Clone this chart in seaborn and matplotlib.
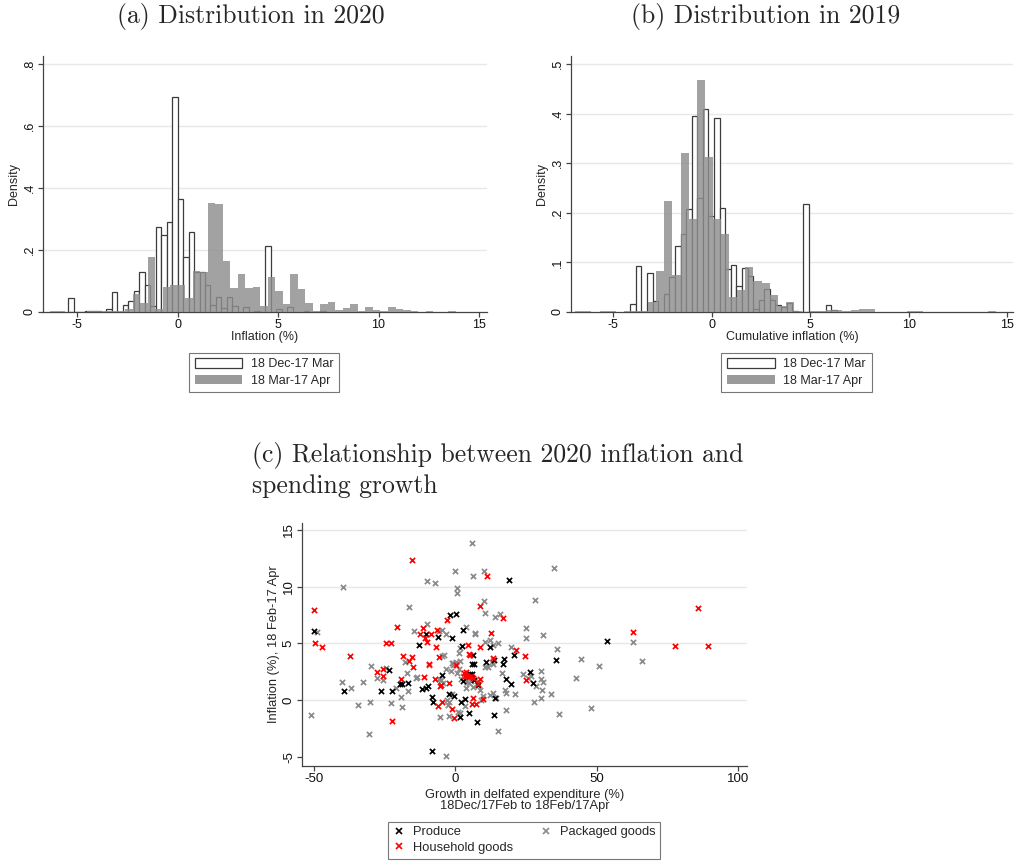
import numpy as np
import pandas as pd
import matplotlib
matplotlib.use("Agg")
import matplotlib.pyplot as plt
from matplotlib.patches import Patch
from matplotlib.lines import Line2D
import seaborn as sns

# ---------------- data: panel (a) distribution in 2020 ----------------
a_dec_bin_width = 0.2727
a_dec_bin_origin = 0.0
a_dec_first_bin = -20
a_dec_density = [0.046, 0, 0, 0.002, 0.002, 0.002, 0, 0.010, 0.064, 0,
                 0.022, 0.034, 0.067, 0.129, 0.087, 0.018, 0.273, 0.250, 0.290, 0.694,
                 0.366, 0.176, 0.259, 0.130, 0.130, 0.088, 0.022, 0.049, 0.012, 0.049,
                 0.018, 0, 0.017, 0, 0.003, 0, 0.214, 0, 0.011, 0,
                 0.016, 0, 0, 0.004, 0, 0, 0.004]
a_mar_bin_width = 0.374
a_mar_bin_origin = 0.0
a_mar_first_bin = -17
a_mar_density = [0.003, 0.003, 0, 0, 0.001, 0.002, 0.002, 0.002, 0.003, 0.003,
                 0.010, 0.057, 0.030, 0.179, 0.010, 0.080, 0.087, 0.087, 0.045, 0.133,
                 0.128, 0.353, 0.350, 0.166, 0.079, 0.123, 0.077, 0.081, 0.019, 0.112,
                 0.069, 0.025, 0.124, 0.073, 0.030, 0.003, 0.027, 0.033, 0.008, 0.012,
                 0.026, 0.003, 0.017, 0.008, 0.002, 0.017, 0.011, 0.005, 0.003, 0.001,
                 0.003, 0, 0, 0.004]

# ---------------- data: panel (b) distribution in 2019 ----------------
b_dec_bin_width = 0.2834
b_dec_bin_origin = 0.118
b_dec_first_bin = -15
b_dec_density = [0.017, 0.092, 0, 0.078, 0.023, 0, 0.036, 0.070, 0.134, 0.157,
                 0.208, 0.395, 0.230, 0.410, 0.193, 0.390, 0.209, 0.087, 0.094, 0.053,
                 0.088, 0.072, 0.006, 0.024, 0.046, 0.025, 0.015, 0.010, 0.019, 0.003,
                 0, 0.218, 0, 0, 0, 0.014, 0.004]
b_mar_bin_width = 0.411
b_mar_bin_origin = -2.403
b_mar_first_bin = -11
b_mar_density = [0.002, 0.002, 0, 0.002, 0.002, 0, 0.003, 0.003, 0.003, 0.020,
                 0.083, 0.223, 0.075, 0.320, 0.187, 0.468, 0.313, 0.187, 0.157, 0.031,
                 0.044, 0.090, 0.063, 0.058, 0.035, 0.012, 0.020, 0.003, 0, 0.001,
                 0.002, 0.004, 0.005, 0.002, 0.004, 0.006, 0.007, 0, 0, 0,
                 0, 0.002, 0.002, 0, 0, 0, 0, 0, 0, 0,
                 0, 0.002]

hist_x_ticks = [-5, 0, 5, 10, 15]
hist_x_tick_labels = ["-5", "0", "5", "10", "15"]
a_y_ticks = [0, 0.2, 0.4, 0.6, 0.8]
a_y_tick_labels = ["0", ".2", ".4", ".6", ".8"]
b_y_ticks = [0, 0.1, 0.2, 0.3, 0.4, 0.5]
b_y_tick_labels = ["0", ".1", ".2", ".3", ".4", ".5"]
legend_labels = ["18 Dec-17 Mar", "18 Mar-17 Apr"]

# ---------------- data: panel (c) scatter ----------------
produce_growth = [-50.1, -39.4, -26.3, -23.4, -22.3, -19.6, -18.9, -16.6, -12.9, -11.8,
                  -10.5, -10.2, -9.5, -8.2, -7.9, -8.3, -6.0, -4.6, -1.8, -2.3,
                  -1.1, -0.4, 0.3, 1.8, 2.6, 2.3, 2.6, 2.2, 3.6, 4.8,
                  5.1, 5.8, 6.2, 6.0, 6.6, 6.7, 7.7, 8.2, 10.9, 12.3,
                  13.9, 14.0, 13.8, 17.1, 16.9, 17.8, 18.9, 19.7, 20.7, 26.4,
                  27.4, 35.5, 53.6]
produce_infl = [6.06, 0.82, 0.82, 2.62, 0.82, 1.45, 1.38, 1.50, 4.82, 0.98,
                5.82, 1.05, 1.25, 0.30, -0.12, -4.45, 5.60, 2.20, 7.48, 0.58,
                5.48, 0.40, 7.56, -1.45, 6.14, 4.80, 1.70, -0.12, 0.08, -1.12,
                2.30, 2.26, 3.95, 3.20, 3.20, 1.76, -1.95, 1.32, 3.32, 4.70,
                3.50, 0.20, -1.30, 3.66, 3.20, 1.90, 10.55, 1.43, 3.96, 2.48,
                1.55, 3.57, 5.18]

household_growth = [-49.9, -49.5, -47.0, -37.1, -27.8, -25.7, -25.7, -24.5, -22.6, -22.3,
                    -20.7, -19.2, -18.5, -16.4, -15.3, -15.0, -15.3, -12.3, -11.4, -10.7,
                    -10.1, -8.6, -11.1, -9.2, -6.6, -6.7, -5.8, -7.1, -5.5, -5.0,
                    -6.2, -4.7, -2.8, -2.3, -1.2, -0.5, 0.3, 3.0, 3.5, 3.9,
                    4.3, 5.0, 4.4, 4.8, 5.1, 5.5, 6.2, 6.4, 6.1, 7.2,
                    8.0, 8.9, 8.7, 8.9, 9.8, 11.1, 12.6, 13.3, 16.9, 21.5,
                    24.7, 25.1, 62.9, 77.6, 85.9, 89.4]
household_infl = [7.95, 5.02, 4.65, 3.92, 2.47, 2.76, 2.15, 5.04, 5.04, -1.86,
                  6.40, 1.84, 3.90, 3.47, 3.80, 2.94, 12.35, 5.80, 6.38, 5.48,
                  5.15, 5.80, 2.02, 3.20, 6.20, 4.72, 3.78, 1.83, 1.26, 1.30,
                  -0.48, -0.12, 7.07, 1.48, -0.75, -1.57, 3.10, 2.40, 2.10, 2.50,
                  2.15, 2.00, 4.90, 4.10, 3.96, 2.15, 1.94, 0.16, -0.36, -0.38,
                  1.45, 1.85, 4.65, 8.25, 0.08, 10.90, 5.90, 3.72, 7.25, 4.42,
                  3.88, 1.76, 5.97, 4.76, 8.12, 4.76]

packaged_growth = [6.0, -0.1, 6.2, 10.1, -10.1, -7.3, 0.7, 0.5, -39.7, 34.8,
                   28.2, 10.1, 10.5, 14.2, 16.0, -16.3, -9.9, -14.6, 3.7, 6.9,
                   7.1, -5.8, -4.6, -3.4, 24.9, 24.9, 31.0, 36.0, 62.9, 19.9,
                   12.2, 10.5, 13.4, 15.0, 1.4, 1.8, 1.6, -4.6, -3.8, -17.7,
                   -17.1, -16.6, -19.0, -18.9, -22.8, -24.4, -25.5, -27.7, -29.7, -32.5,
                   -34.3, -37.0, -40.0, -30.2, -30.6, -51.1, -48.9, -13.4, -9.4, -21.0,
                   -5.6, -5.0, -4.3, -3.4, -3.0, -2.1, -2.2, -3.1, -5.4, 1.1,
                   1.6, -1.6, -0.7, -1.3, -0.6, 0.4, 1.5, 2.2, 2.8, 4.2,
                   4.9, 5.6, 3.8, 6.3, 8.6, 9.0, 9.9, 3.4, 12.4, 13.3,
                   14.3, 15.1, 17.6, 18.0, 18.0, 21.3, 16.4, 10.6, 11.6, 13.2,
                   13.0, 7.9, 24.0, 25.8, 26.8, 28.5, 30.3, 30.5, 31.1, 30.6,
                   30.3, 27.9, 33.8, 36.8, 42.9, 44.4, 51.0, 48.2, 66.2, -1.3,
                   -2.5, 0.5, 3.5, -13.8]
packaged_infl = [13.83, 11.40, 10.90, 11.37, 10.53, 10.30, 9.90, 9.42, 10.00, 11.65,
                 8.80, 8.74, 7.66, 7.33, 7.57, 8.20, 6.74, 6.13, 6.42, 5.90,
                 5.80, 6.10, 6.17, 5.82, 6.33, 5.48, 5.76, 4.50, 5.12, 4.72,
                 5.30, 5.08, 4.90, 5.02, 4.15, 3.45, 4.55, 3.88, 3.96, 3.38,
                 2.36, 0.80, 0.30, -0.62, -0.25, 2.85, 1.74, 1.92, 2.98, 1.58,
                 -0.45, 1.10, 1.58, -0.20, -2.97, -1.32, 6.04, 2.05, 3.07, 1.03,
                 1.90, 1.75, 1.55, 2.73, 0.00, -0.18, -1.42, -4.93, -1.45, -1.00,
                 -1.12, 2.58, 3.08, 3.25, 3.30, 3.40, 2.70, 1.85, 2.10, 1.60,
                 1.50, 1.70, 1.05, 1.20, 0.90, -0.03, 0.35, -0.50, 0.45, 0.60,
                 0.20, -2.70, 0.90, 0.60, -0.88, 0.53, 2.40, 2.90, 2.95, 3.17,
                 3.35, 1.67, 2.30, 1.94, 2.10, 1.28, 2.60, 1.82, 1.58, 0.90,
                 0.22, -0.15, 0.57, -1.18, 1.97, 3.60, 2.97, -0.65, 3.41, 0.53,
                 -0.44, 2.40, 1.90, 1.95]

group_names = ["Produce", "Household goods", "Packaged goods"]
c_x_ticks = [-50, 0, 50, 100]
c_x_tick_labels = ["-50", "0", "50", "100"]
c_y_ticks = [-5, 0, 5, 10, 15]
c_y_tick_labels = ["-5", "0", "5", "10", "15"]

# ---------------- style ----------------
sns.set_theme(style="white")
plt.rcParams["font.family"] = ["Liberation Sans", "DejaVu Sans"]
TITLE_FONT = ["cmr10", "DejaVu Serif"]
GRID = "#ebe7e7"
AX = "#444444"
TICK_FS = 9
LAB_FS = 9

fig = plt.figure(figsize=(10.15, 8.64), dpi=100)


def hist_frame(first_bin, origin, width, heights):
    edges = origin + width * np.arange(first_bin, first_bin + len(heights) + 1)
    centers = (edges[:-1] + edges[1:]) / 2
    return pd.DataFrame({"x": centers, "w": heights}), [float(e) for e in edges]


def style_axes(ax, xlim, ylim, xticks, xtl, yticks, ytl, fs):
    ax.set_xlim(*xlim)
    ax.set_ylim(*ylim)
    ax.set_xticks(xticks)
    ax.set_xticklabels(xtl, fontsize=fs)
    ax.set_yticks(yticks)
    ax.set_yticklabels(ytl, fontsize=fs, rotation=90, va="center")
    for s in ["top", "right"]:
        ax.spines[s].set_visible(False)
    for s in ["left", "bottom"]:
        ax.spines[s].set_color(AX)
        ax.spines[s].set_linewidth(0.9)
    ax.tick_params(axis="both", direction="out", length=3.6, width=0.9,
                   color=AX, pad=1.5, bottom=True, left=True, labelcolor="#111111")
    ax.grid(False)
    for yv in yticks[1:]:
        ax.axhline(yv, color=GRID, lw=1.0, zorder=0)
    ax.set_facecolor("white")


def hist_panel(ax, dec, mar, xlim, ylim, yticks, ytl, xlabel):
    (df_d, e_d), (df_m, e_m) = dec, mar
    sns.histplot(data=df_d, x="x", weights="w", bins=e_d, stat="count", ax=ax,
                 color="white", edgecolor="#3c3c3c", linewidth=0.9, alpha=1.0,
                 zorder=2)
    sns.histplot(data=df_m, x="x", weights="w", bins=e_m, stat="count", ax=ax,
                 color="#8e8e8e", edgecolor="none", linewidth=0, alpha=0.82,
                 zorder=3)
    style_axes(ax, xlim, ylim, hist_x_ticks, hist_x_tick_labels, yticks, ytl, TICK_FS)
    ax.set_xlabel(xlabel, fontsize=LAB_FS, labelpad=0)
    ax.set_ylabel("Density", fontsize=LAB_FS, labelpad=3)


def hist_legend(cx, cy):
    handles = [Patch(facecolor="white", edgecolor="#3c3c3c", linewidth=0.9),
               Patch(facecolor="#9a9a9a", edgecolor="none")]
    leg = fig.legend(handles, legend_labels, loc="center",
                     bbox_to_anchor=(cx, cy), fontsize=9, frameon=True,
                     fancybox=False, edgecolor="#555555", handlelength=3.8,
                     handleheight=0.8, labelspacing=0.35, borderpad=0.45,
                     handletextpad=0.7, borderaxespad=0)
    leg.get_frame().set_linewidth(0.8)


# ---- panel (a)
ax_a = fig.add_axes([0.0424, 0.6389, 0.4374, 0.2963])
hist_panel(ax_a,
           hist_frame(a_dec_first_bin, a_dec_bin_origin, a_dec_bin_width, a_dec_density),
           hist_frame(a_mar_first_bin, a_mar_bin_origin, a_mar_bin_width, a_mar_density),
           (-6.7, 15.4), (0, 0.826), a_y_ticks, a_y_tick_labels, "Inflation (%)")
hist_legend(264 / 1015, 1 - 372.5 / 864)
fig.text(251 / 1015, 1 - 17 / 864, "(a) Distribution in 2020", family=TITLE_FONT,
         fontsize=18.5, ha="center", va="center")

# ---- panel (b)
ax_b = fig.add_axes([0.5626, 0.6389, 0.4355, 0.2963])
hist_panel(ax_b,
           hist_frame(b_dec_first_bin, b_dec_bin_origin, b_dec_bin_width, b_dec_density),
           hist_frame(b_mar_first_bin, b_mar_bin_origin, b_mar_bin_width, b_mar_density),
           (-7.14, 15.3), (0, 0.516), b_y_ticks, b_y_tick_labels, "Cumulative inflation (%)")
hist_legend(796.5 / 1015, 1 - 372.5 / 864)
fig.text(766 / 1015, 1 - 17 / 864, "(b) Distribution in 2019", family=TITLE_FONT,
         fontsize=18.5, ha="center", va="center")

# ---- panel (c)
ax_c = fig.add_axes([0.2975, 0.1134, 0.4384, 0.2813])
df_c = pd.concat([
    pd.DataFrame({"growth": packaged_growth, "infl": packaged_infl, "group": group_names[2]}),
    pd.DataFrame({"growth": produce_growth, "infl": produce_infl, "group": group_names[0]}),
    pd.DataFrame({"growth": household_growth, "infl": household_infl, "group": group_names[1]}),
], ignore_index=True)
palette = {group_names[0]: "#000000", group_names[1]: "#ff0000", group_names[2]: "#8a8a8a"}
for g in [group_names[2], group_names[0], group_names[1]]:
    sub = df_c[df_c["group"] == g]
    sns.scatterplot(data=sub, x="growth", y="infl", ax=ax_c, marker="x",
                    color=palette[g], s=14, linewidth=1.25, legend=False, zorder=3)
style_axes(ax_c, (-54.2, 103.2), (-5.8, 15.6), c_x_ticks, c_x_tick_labels,
           c_y_ticks, c_y_tick_labels, 9.5)
ax_c.set_xlabel("Growth in delfated expenditure (%)\n18Dec/17Feb to 18Feb/17Apr",
                fontsize=9.3, labelpad=2.5, linespacing=0.95)
ax_c.set_ylabel("Inflation (%), 18 Feb-17 Apr", fontsize=9.3, labelpad=2)

c_handles = [Line2D([], [], marker="x", linestyle="none", color=palette[g],
                    markersize=4.5, markeredgewidth=1.2) for g in group_names]
leg_c = fig.legend(c_handles, group_names, loc="center",
                   bbox_to_anchor=(524 / 1015, 1 - 840 / 864), ncol=2, fontsize=9.3,
                   frameon=True, fancybox=False, edgecolor="#555555",
                   handlelength=1.0, labelspacing=0.3, columnspacing=2.0,
                   borderpad=0.35, handletextpad=0.6, borderaxespad=0)
leg_c.get_frame().set_linewidth(0.8)

fig.text(252 / 1015, 1 - 470 / 864,
         "(c) Relationship between 2020 inflation and\nspending growth",
         family=TITLE_FONT, fontsize=18.5, ha="left", va="center", linespacing=1.3)

fig.savefig("out.png", dpi=100, facecolor="white")
